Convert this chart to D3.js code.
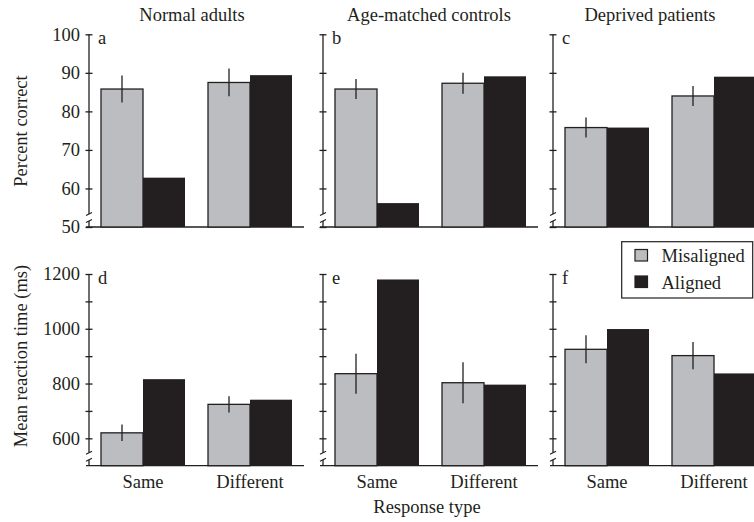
<!DOCTYPE html>
<html>
<head>
<meta charset="UTF-8">
<script src="https://cdnjs.cloudflare.com/ajax/libs/d3/7.8.5/d3.min.js"></script>
<style>
  body { margin: 0; background: #fff; }
  svg text { font-family: "Liberation Serif", "Times New Roman", Times, "DejaVu Serif", serif; }
</style>
</head>
<body>
<svg id="chart" width="754" height="522"></svg>
<script>
// data
const groups = ['Normal adults', 'Age-matched controls', 'Deprived patients'];
const responses = ['Same', 'Different'];
const series = ['Misaligned', 'Aligned'];
const letters = [['a', 'b', 'c'], ['d', 'e', 'f']];

// percent correct, [group][response]
const accMis    = [[85.8, 87.5], [85.8, 87.3], [75.8, 84.0]];
const accMisErr = [[3.5, 3.6],   [2.6, 2.7],   [2.6, 2.6]];
const accAli    = [[62.8, 89.4], [56.2, 89.1], [75.8, 89.0]];

// mean reaction time (ms), [group][response]
const rtMis    = [[620, 724], [836, 803], [925, 902]];
const rtMisErr = [[30, 30],   [73, 75],   [51, 50]];
const rtAli    = [[816, 741], [1180, 796], [999, 837]];

const accTicks = [50, 60, 70, 80, 90, 100];
const rtTicks = [600, 700, 800, 900, 1000, 1100, 1200];
const rtLabels = [600, 800, 1000, 1200];

const ink = '#231f20', grey = '#bcbdc0';
const serif = '"Liberation Serif", "Times New Roman", Times, "DejaVu Serif", serif';
const fs = 18.5;
const svg = d3.select('#chart');

const panelX = [89, 323, 553];   // y-axis position of each column
const rows = [
  { y: d3.scaleLinear().domain([50, 100]).range([227, 34.3]),
    mis: accMis, err: accMisErr, ali: accAli, ticks: accTicks,
    fmt: d => d, label: 'Percent correct', labelY: 131 },
  { y: d3.scaleLinear().domain([500, 1200]).range([465.7, 274]),
    mis: rtMis, err: rtMisErr, ali: rtAli, ticks: rtTicks,
    fmt: d => rtLabels.includes(d) ? d : '', label: 'Mean reaction time (ms)', labelY: 356 }
];

const sub = d3.scaleBand().domain(series).range([0, 84]);
const color = d3.scaleOrdinal().domain(series).range([grey, ink]);

function label(sel, x, y, txt, anchor) {
  return sel.append('text').attr('x', x).attr('y', y)
    .attr('text-anchor', anchor || 'start').attr('font-family', serif)
    .attr('font-size', fs).attr('fill', ink).text(txt);
}

rows.forEach((row, r) => {
  const y = row.y;
  const base = y.range()[0], top = y.range()[1];

  panelX.forEach((ax, c) => {
    const g = svg.append('g');
    const x = d3.scaleBand().domain(responses).range([ax + 12, ax + 203]).paddingInner(0.215);

    // baseline
    g.append('line').attr('x1', ax - 3).attr('x2', ax + 215)
      .attr('y1', base).attr('y2', base).attr('stroke', ink).attr('stroke-width', 1.3);

    // bars
    responses.forEach((resp, j) => {
      const vals = { Misaligned: row.mis[c][j], Aligned: row.ali[c][j] };
      series.forEach(s => {
        g.append('rect')
          .attr('x', x(resp) + sub(s))
          .attr('y', y(vals[s]))
          .attr('width', sub.bandwidth())
          .attr('height', base - y(vals[s]))
          .attr('fill', color(s))
          .attr('stroke', ink)
          .attr('stroke-width', s === 'Misaligned' ? 1.3 : 0);
      });
      const cx = x(resp) + sub('Misaligned') + sub.bandwidth() / 2;
      g.append('line').attr('x1', cx).attr('x2', cx)
        .attr('y1', y(row.mis[c][j] + row.err[c][j]))
        .attr('y2', y(row.mis[c][j] - row.err[c][j]))
        .attr('stroke', ink).attr('stroke-width', 1.3);
    });

    // axis: ticks crossing the line, labels only in first column
    const left = g.append('g').attr('transform', `translate(${ax},0)`)
      .call(d3.axisLeft(y).tickValues(row.ticks).tickSize(3.5).tickPadding(5.5)
        .tickFormat(c === 0 ? row.fmt : ''));
    const right = g.append('g').attr('transform', `translate(${ax},0)`)
      .call(d3.axisRight(y).tickValues(row.ticks).tickSize(3.5).tickFormat(''));
    [left, right].forEach(a => {
      a.attr('font-family', serif).attr('font-size', fs);
      a.select('.domain').remove();
      a.selectAll('line').attr('stroke', ink).attr('stroke-width', 1.3);
      a.selectAll('text').attr('fill', ink);
    });

    // axis line with break near the baseline
    g.append('line').attr('x1', ax).attr('x2', ax).attr('y1', top).attr('y2', base - 13)
      .attr('stroke', ink).attr('stroke-width', 1.3);
    g.append('line').attr('x1', ax).attr('x2', ax).attr('y1', base - 6).attr('y2', base)
      .attr('stroke', ink).attr('stroke-width', 1.3);
    [base - 13, base - 6].forEach(by => {
      g.append('line').attr('x1', ax - 3).attr('x2', ax + 3)
        .attr('y1', by + 1.5).attr('y2', by - 1.5)
        .attr('stroke', ink).attr('stroke-width', 1.2);
    });

    // panel letter
    label(g, ax + 9, top + 10, letters[r][c]);

    // category labels on bottom row
    if (r === 1) {
      responses.forEach(resp => label(g, x(resp) + x.bandwidth() / 2, base + 22, resp, 'middle'));
    }
  });

  label(svg, 0, 0, row.label, 'middle')
    .attr('transform', `translate(27,${row.labelY}) rotate(-90)`);
});

// column titles
const titleX = [192, 429, 650];
groups.forEach((t, i) => label(svg, titleX[i], 21, t, 'middle'));

label(svg, 427, 513, 'Response type', 'middle');

// legend
const lg = svg.append('g');
lg.append('rect').attr('x', 621.7).attr('y', 241.7).attr('width', 131).attr('height', 56.3)
  .attr('fill', '#fff').attr('stroke', ink).attr('stroke-width', 1.2);
series.forEach((s, i) => {
  lg.append('rect').attr('x', 635).attr('y', 249.5 + i * 26.5).attr('width', 12.5).attr('height', 11.5)
    .attr('fill', color(s)).attr('stroke', ink).attr('stroke-width', 1.2);
  label(lg, 661.5, 262 + i * 26.5, s);
});
</script>
</body>
</html>
